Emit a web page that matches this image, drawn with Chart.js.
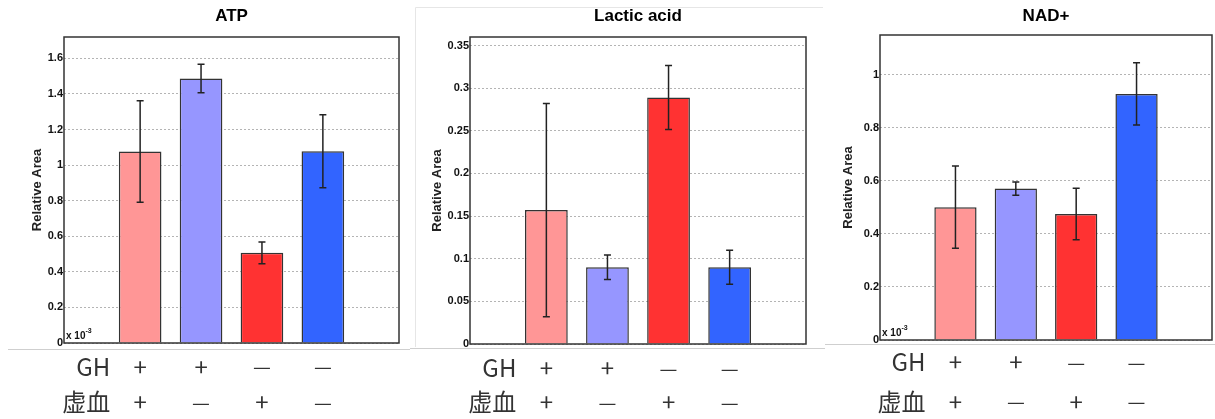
<!DOCTYPE html>
<html>
<head>
<meta charset="utf-8">
<script src="https://cdn.jsdelivr.net/npm/chart.js@4"></script>
<style>
  body { margin: 0; background: #fff; }
  #wrap { position: relative; width: 1215px; height: 419px; overflow: hidden; }
  canvas { position: absolute; top: 0; }
</style>
</head>
<body>
<div id="wrap">
  <canvas id="atpChart" style="left:0px" width="410" height="419"></canvas>
  <canvas id="lacticChart" style="left:410px" width="415" height="419"></canvas>
  <canvas id="nadChart" style="left:825px" width="390" height="419"></canvas>
</div>
<script>
// groups (bar positions) and the condition table under each panel
const positions = [1, 2, 3, 4];
const rowLabels = ['GH', '虚血'];
const ghSigns = ['+', '+', '—', '—'];
const ischemiaSigns = ['+', '—', '+', '—'];

// ATP (x 10^-3)
const atpMean = [1.076, 1.487, 0.507, 1.078];
const atpErr = [0.285, 0.08, 0.061, 0.205];
const atpTicks = [0, 0.2, 0.4, 0.6, 0.8, 1, 1.2, 1.4, 1.6];

// Lactic acid
const lacticMean = [0.157, 0.090, 0.289, 0.090];
const lacticErr = [0.125, 0.0145, 0.0375, 0.0198];
const lacticTicks = [0, 0.05, 0.1, 0.15, 0.2, 0.25, 0.3, 0.35];

// NAD+ (x 10^-3)
const nadMean = [0.501, 0.571, 0.475, 0.928];
const nadErr = [0.155, 0.025, 0.097, 0.117];
const nadTicks = [0, 0.2, 0.4, 0.6, 0.8, 1];

const barColors = ['#ff9696', '#9696ff', '#ff3232', '#3264ff'];
const sans = '"Liberation Sans", Arial, sans-serif';
const jp = '"Noto Sans CJK JP", sans-serif';

// error bars, box frame, exponent note, separator and the +/- table
const extras = {
  id: 'extras',
  afterDatasetsDraw(chart, args, opts) {
    const ctx = chart.ctx, xs = chart.scales.x, ys = chart.scales.y;
    const data = chart.data.datasets[0].data;
    ctx.save();
    ctx.strokeStyle = '#222';
    ctx.lineWidth = 1.5;
    data.forEach((d, i) => {
      const x = xs.getPixelForValue(d.x);
      const hi = ys.getPixelForValue(d.y + opts.err[i]);
      const lo = ys.getPixelForValue(d.y - opts.err[i]);
      ctx.beginPath();
      ctx.moveTo(x, hi); ctx.lineTo(x, lo);
      ctx.moveTo(x - 3.5, hi); ctx.lineTo(x + 3.5, hi);
      ctx.moveTo(x - 3.5, lo); ctx.lineTo(x + 3.5, lo);
      ctx.stroke();
    });
    ctx.restore();
  },
  afterDraw(chart, args, opts) {
    const ctx = chart.ctx, a = chart.chartArea, xs = chart.scales.x;
    ctx.save();
    if (opts.outer) {
      ctx.strokeStyle = '#e6e6e6';
      ctx.lineWidth = 1;
      ctx.beginPath();
      ctx.moveTo(opts.outer[0], opts.outer[3]);
      ctx.lineTo(opts.outer[0], opts.outer[1]);
      ctx.lineTo(opts.outer[2], opts.outer[1]);
      ctx.stroke();
    }
    ctx.strokeStyle = '#333';
    ctx.lineWidth = 1.5;
    ctx.strokeRect(a.left, a.top, a.right - a.left, a.bottom - a.top);

    if (opts.exp) {
      ctx.fillStyle = '#111';
      ctx.font = 'bold 10px ' + sans;
      ctx.textBaseline = 'alphabetic';
      ctx.textAlign = 'left';
      ctx.fillText('x 10', a.left + 2, a.bottom - 4);
      const w = ctx.measureText('x 10').width;
      ctx.font = 'bold 7px ' + sans;
      ctx.fillText('-3', a.left + 2 + w, a.bottom - 10);
    }

    ctx.strokeStyle = '#cfcfcf';
    ctx.lineWidth = 1;
    ctx.beginPath();
    ctx.moveTo(opts.sep[0], opts.sep[2]);
    ctx.lineTo(opts.sep[1], opts.sep[2]);
    ctx.stroke();

    ctx.fillStyle = '#333';
    ctx.font = '24px ' + jp;
    ctx.textBaseline = 'middle';
    const x0 = xs.getPixelForValue(positions[0]);
    [ghSigns, ischemiaSigns].forEach((signs, r) => {
      const y = opts.rows[r];
      ctx.textAlign = 'right';
      ctx.fillText(rowLabels[r], x0 - 30, y);
      ctx.textAlign = 'center';
      signs.forEach((s, i) => {
        const x = xs.getPixelForValue(positions[i]);
        if (s === '—') {
          ctx.font = '20px ' + jp;
          ctx.fillText(s, x, y);
          ctx.font = '24px ' + jp;
        } else {
          ctx.fillText(s, x, y);
        }
      });
    });
    ctx.restore();
  }
};

function makePanel(id, title, mean, err, ticks, yMax, p) {
  const canvas = document.getElementById(id);
  return new Chart(canvas, {
    type: 'bar',
    data: {
      datasets: [{
        data: positions.map((x, i) => ({ x: x, y: mean[i] })),
        backgroundColor: barColors,
        borderColor: '#333',
        borderWidth: 1.5,
        barPercentage: 0.7,
        categoryPercentage: 1
      }]
    },
    options: {
      responsive: false,
      animation: false,
      layout: { padding: { left: 0, top: 0, right: canvas.width - p.right, bottom: canvas.height - p.bottom } },
      plugins: {
        legend: { display: false },
        tooltip: { enabled: false },
        title: {
          display: true,
          text: title,
          fullSize: false,
          color: '#000',
          font: { family: sans, size: 17, weight: 'bold' },
          padding: { top: p.titleTop, bottom: p.top - p.titleTop - 20.4 }
        },
        extras: { err: err, exp: p.exp, sep: p.sep, rows: p.rows, outer: p.outer }
      },
      scales: {
        x: {
          type: 'linear',
          offset: false,
          min: -0.25,
          max: 5.25,
          grid: { display: false, drawTicks: false, offset: false },
          border: { display: false },
          ticks: { display: false },
          afterBuildTicks: s => { s.ticks = positions.map(v => ({ value: v })); },
          afterFit: s => { s.height = 0; }
        },
        y: {
          min: 0,
          max: yMax,
          grid: { color: '#b4b4b4', drawTicks: false, lineWidth: 1 },
          border: { display: false, dash: [2, 2] },
          afterBuildTicks: s => { s.ticks = ticks.map(v => ({ value: v })); },
          afterFit: s => { s.width = p.left; },
          ticks: {
            padding: 1,
            color: '#111',
            font: { family: sans, size: 11, weight: 'bold' },
            callback: v => String(+v.toFixed(2))
          },
          title: {
            display: true,
            text: 'Relative Area',
            color: '#222',
            font: { family: sans, size: 13, weight: 'bold' },
            padding: { top: p.yTitle - 7.8, bottom: 0 }
          }
        }
      }
    },
    plugins: [extras]
  });
}

makePanel('atpChart', 'ATP', atpMean, atpErr, atpTicks, 1.72,
  { left: 64, right: 399, top: 37, bottom: 343, titleTop: 6.5, yTitle: 37, exp: true,
    sep: [8, 410, 349.5], rows: [366.5, 402] });
makePanel('lacticChart', 'Lactic acid', lacticMean, lacticErr, lacticTicks, 0.36,
  { left: 60, right: 396, top: 37, bottom: 344, titleTop: 6.3, yTitle: 27, exp: false,
    sep: [0, 415, 348.5], rows: [368, 402], outer: [5.5, 7.5, 413, 347] });
makePanel('nadChart', 'NAD+', nadMean, nadErr, nadTicks, 1.15,
  { left: 55, right: 387, top: 35, bottom: 340, titleTop: 5.8, yTitle: 23, exp: true,
    sep: [0, 390, 344.5], rows: [362, 401.5] });
</script>
</body>
</html>
